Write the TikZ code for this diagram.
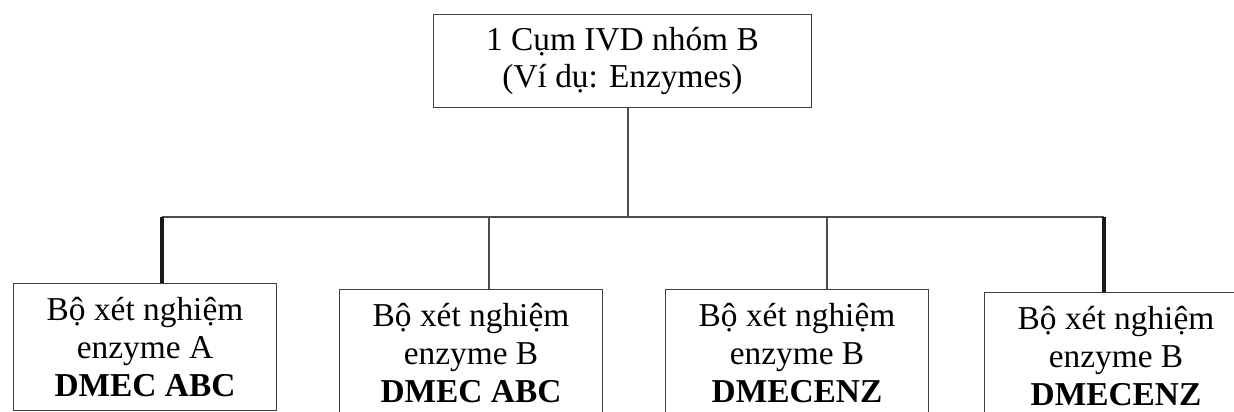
\documentclass[tikz,border=0pt]{standalone}
\usepackage{fontspec}
\setmainfont{Liberation Serif}
\usetikzlibrary{positioning}

\begin{document}
\begin{tikzpicture}[x=0.02cm,y=-0.02cm]
            \tikzset{box/.style = {draw=black!75, line width=0.6pt, inner sep=0pt, align=center,
                                   font=\fontsize{19}{21.5}\selectfont, text=black}}
            \tikzset{link/.style = {draw=black!70, line width=0.6pt}}
            \tikzset{heavy/.style = {draw=black!90, line width=2.2pt}}

            \clip (0,0) rectangle (1234,412);
            \fill[white] (0,0) rectangle (1234,412);

            % boxes
            \node[box, anchor=north west, minimum width=7.56cm, minimum height=1.86cm] (top) at (433,14)
              {1 Cụm IVD nhóm B\\(Ví dụ: Enzymes)};
            \foreach \n/\x/\y/\e/\c in {k1/13/283/A/DMEC ABC, k2/339/289/B/DMEC ABC,
                                        k3/665/289/B/DMECENZ, k4/984/292/B/DMECENZ}
            {
              \node[box, anchor=north west, minimum width=5.26cm, minimum height=2.54cm] (\n) at (\x,\y)
                {Bộ xét nghiệm\\enzyme \e\\\textbf{\c}};
            }

            % junctions
            \coordinate (j0) at (628,217);
            \coordinate (j1) at (162,217);
            \coordinate (j2) at (489,217);
            \coordinate (j3) at (827,217);
            \coordinate (j4) at (1104,217);

            % edges
            \draw[link] (j0 |- top.south) -- (j0);
            \draw[link] (j1) -- (j4);
            \foreach \j/\k in {j2/k2,j3/k3} {\draw[link] (\j) -- (\j |- \k.north);}
            \foreach \j/\k in {j1/k1,j4/k4} {\draw[heavy] (\j) -- (\j |- \k.north);}

\end{tikzpicture}
\end{document}
